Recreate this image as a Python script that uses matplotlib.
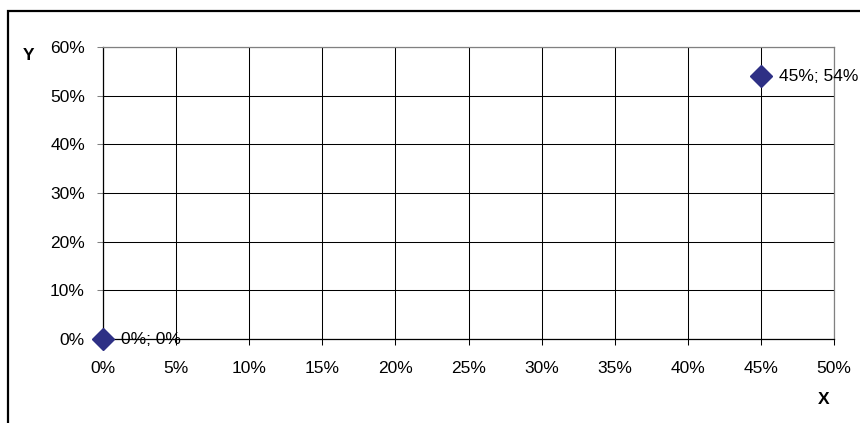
import matplotlib
matplotlib.use("Agg")
import matplotlib.pyplot as plt
from matplotlib.lines import Line2D
from matplotlib.ticker import FuncFormatter, MultipleLocator

plt.rcParams['font.family'] = ['Liberation Sans', 'DejaVu Sans']

# 数据点 (百分比)
x_vals = [0, 45]
y_vals = [0, 54]

x_ticks = list(range(0, 51, 5))
y_ticks = list(range(0, 61, 10))

MARKER_COLOR = '#2e3085'
GRID_COLOR = '#000000'
BORDER_COLOR = '#808080'
FONT_SIZE = 12.5
W, H = 860, 423


def pct(v, _pos=None):
    return f"{v:.0f}%"


def plot_points():
    fig = plt.figure(figsize=(W / 100, H / 100), dpi=100)
    ax = fig.add_axes([103 / W, 1 - 339 / H, (834 - 103) / W, (339 - 47) / H])

    ax.plot(x_vals, y_vals, linestyle='none', marker='D', markersize=11,
            color=MARKER_COLOR, markeredgecolor=MARKER_COLOR, clip_on=False, zorder=5)

    # 数据标签: "x%; y%"
    for x, y in zip(x_vals, y_vals):
        ax.annotate(f"{x}%; {y}%", (x, y), xytext=(13, 0), textcoords='offset points',
                    ha='left', va='center', fontsize=FONT_SIZE, color='#000000',
                    annotation_clip=False, zorder=6)

    ax.set_xlim(x_ticks[0], x_ticks[-1])
    ax.set_ylim(y_ticks[0], y_ticks[-1])
    ax.xaxis.set_major_locator(MultipleLocator(5))
    ax.yaxis.set_major_locator(MultipleLocator(10))
    ax.xaxis.set_major_formatter(FuncFormatter(pct))
    ax.yaxis.set_major_formatter(FuncFormatter(pct))

    ax.grid(True, color=GRID_COLOR, linewidth=0.75)
    ax.set_axisbelow(True)

    ax.tick_params(axis='x', direction='out', length=4, width=0.75, color='#000000',
                   pad=12, labelsize=FONT_SIZE)
    ax.tick_params(axis='y', direction='out', length=4.5, width=0.75, color=BORDER_COLOR,
                   pad=8.5, labelsize=FONT_SIZE)

    for side in ('top', 'right'):
        ax.spines[side].set_color(BORDER_COLOR)
        ax.spines[side].set_linewidth(0.9)
    for side in ('left', 'bottom'):
        ax.spines[side].set_color('#000000')
        ax.spines[side].set_linewidth(0.9)

    fig.text(29 / W, 1 - 56 / H, 'Y', fontsize=FONT_SIZE, fontweight='bold', ha='center', va='center')
    fig.text(824 / W, 1 - 399 / H, 'X', fontsize=FONT_SIZE, fontweight='bold', ha='center', va='center')

    # 外框 (只有上边和左边在画面内)
    fx, fy = 8 / W, 1 - 11 / H
    fig.add_artist(Line2D([fx, fx, 1.01], [-0.01, fy, fy], transform=fig.transFigure,
                          color='#000000', linewidth=1.6, solid_joinstyle='miter'))

    fig.savefig('out.png', dpi=100)


if __name__ == "__main__":
    plot_points()
